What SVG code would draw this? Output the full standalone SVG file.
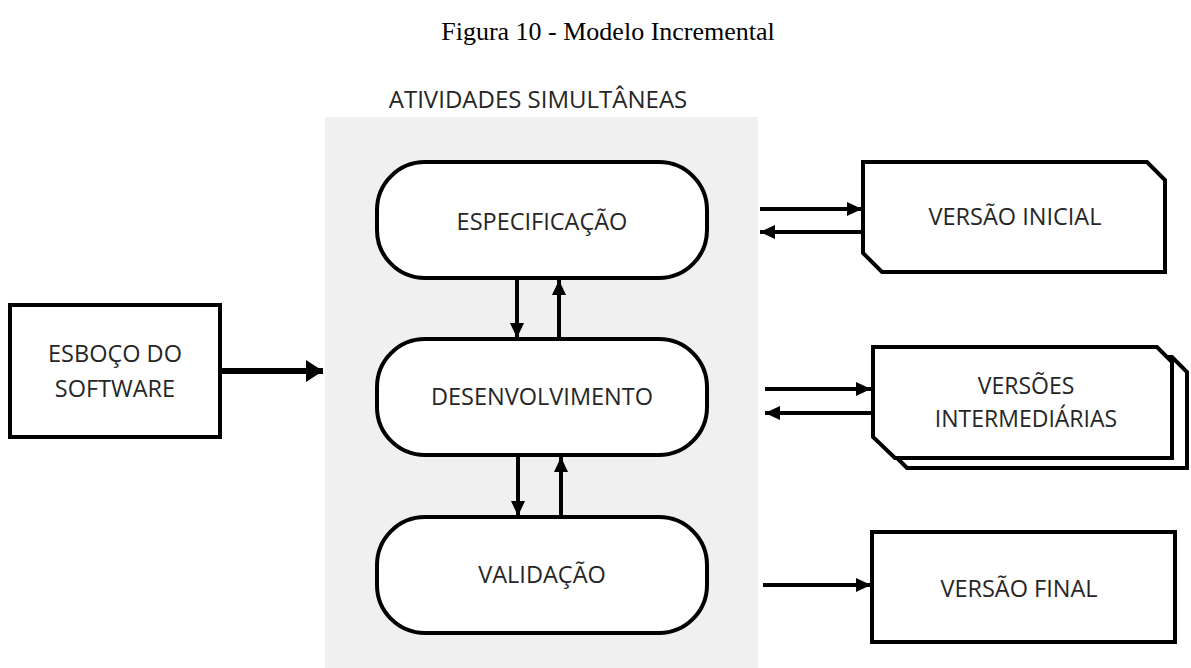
<svg xmlns="http://www.w3.org/2000/svg" width="1191" height="668" viewBox="0 0 1191 668">
<defs>
<style>
.lbl{font-family:"Open Sans","Noto Sans",sans-serif;font-size:23.5px;fill:#262626;text-anchor:middle}
.box{fill:#fff;stroke:#000;stroke-width:4;stroke-linejoin:miter}
.pill{fill:#fff;stroke:#000;stroke-width:4}
.ar{stroke:#000;stroke-width:4;fill:none}
.arb{stroke:#000;stroke-width:6;fill:none}
</style>
<marker id="ah" markerUnits="userSpaceOnUse" markerWidth="16" markerHeight="16" refX="15" refY="8" orient="auto">
<path d="M0,1 L15,8 L0,15 Z" fill="#000"/>
</marker>
<marker id="ahb" markerUnits="userSpaceOnUse" markerWidth="18" markerHeight="22" refX="17" refY="11" orient="auto">
<path d="M0,0 L17,11 L0,22 Z" fill="#000"/>
</marker>
</defs>
<rect width="1191" height="668" fill="#fff"/>
<text x="608" y="40" style="font-family:'Liberation Serif','Times New Roman',serif;font-size:26px;fill:#000;text-anchor:middle">Figura 10 - Modelo Incremental</text>
<rect x="325" y="117" width="433" height="551" fill="#f0f0f0"/>
<text class="lbl" x="538" y="108" style="font-size:24px">ATIVIDADES SIMULTÂNEAS</text>

<g id="esboco">
<rect class="box" x="10" y="305" width="210" height="132"/>
<text class="lbl" x="115" y="362">ESBOÇO DO</text>
<text class="lbl" x="115" y="397">SOFTWARE</text>
</g>
<g id="especificacao">
<rect class="pill" x="377" y="162" width="330" height="116" rx="48" ry="48"/>
<text class="lbl" x="542" y="230">ESPECIFICAÇÃO</text>
</g>
<g id="desenvolvimento">
<rect class="pill" x="377" y="339" width="330" height="116" rx="48" ry="48"/>
<text class="lbl" x="542" y="405">DESENVOLVIMENTO</text>
</g>
<g id="validacao">
<rect class="pill" x="377" y="517" width="330" height="116" rx="48" ry="48"/>
<text class="lbl" x="542" y="583">VALIDAÇÃO</text>
</g>
<g id="versao-inicial">
<path class="box" d="M863,162 H1147 L1165,180 V272 H882 L863,253 Z"/>
<text class="lbl" x="1015" y="225">VERSÃO INICIAL</text>
</g>
<g id="versoes-intermediarias">
<path class="box" d="M888,357 H1172 L1187,372 V468 H907 L888,449 Z"/>
<path class="box" d="M873,347 H1157 L1172,362 V458 H895 L873,437 Z"/>
<text class="lbl" x="1026" y="394" style="font-size:23px">VERSÕES</text>
<text class="lbl" x="1026" y="427" style="font-size:23px">INTERMEDIÁRIAS</text>
</g>
<g id="versao-final">
<rect class="box" x="872" y="532" width="303" height="110"/>
<text class="lbl" x="1019" y="597">VERSÃO FINAL</text>
</g>
<g id="connectors">
<line class="arb" x1="220" y1="371" x2="323" y2="371" marker-end="url(#ahb)"/>
<line class="ar" x1="517" y1="280" x2="517" y2="338" marker-end="url(#ah)"/>
<line class="ar" x1="559" y1="339" x2="559" y2="280" marker-end="url(#ah)"/>
<line class="ar" x1="518" y1="457" x2="518" y2="516" marker-end="url(#ah)"/>
<line class="ar" x1="561" y1="517" x2="561" y2="457" marker-end="url(#ah)"/>
<line class="ar" x1="760" y1="209" x2="862" y2="209" marker-end="url(#ah)"/>
<line class="ar" x1="863" y1="232" x2="760" y2="232" marker-end="url(#ah)"/>
<line class="ar" x1="765" y1="389" x2="871" y2="389" marker-end="url(#ah)"/>
<line class="ar" x1="872" y1="413" x2="765" y2="413" marker-end="url(#ah)"/>
<line class="ar" x1="763" y1="585" x2="871" y2="585" marker-end="url(#ah)"/>
</g>
</svg>
